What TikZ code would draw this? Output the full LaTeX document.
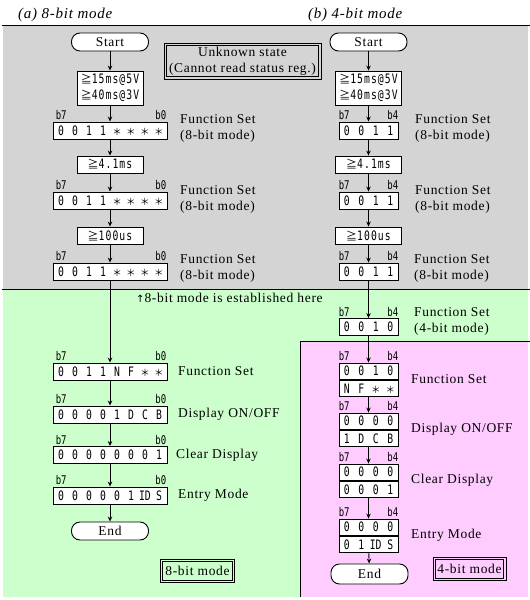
\documentclass[tikz,border=0pt]{standalone}
\usepackage{fontspec}
\setmainfont[LetterSpace=5]{Liberation Serif}
\newfontfamily\bitf[FakeStretch=0.75]{DejaVu Sans Mono}
\newfontfamily\delf[FakeStretch=0.75,LetterSpace=8]{DejaVu Sans Mono}
\newfontfamily\jpf{Noto Sans CJK JP}
\newfontfamily\symf{DejaVu Sans}
\usetikzlibrary{arrows.meta}
\definecolor{bggray}{RGB}{212,212,212}
\definecolor{bggreen}{RGB}{204,255,204}
\definecolor{bgpink}{RGB}{255,204,255}
\newcommand\ce[1]{\makebox[14pt]{#1}}
\newcommand\cf[1]{\makebox[14.5pt]{#1}}
\newcommand\stx{{\jpf\fontsize{9.5}{9.5}\selectfont ＊}}
\newcommand\gex{{\jpf\fontsize{11}{11}\selectfont ≧}}
\tikzset{
  base/.style={draw, line width=0.9pt, fill=white, inner sep=0pt},
  bitbox/.style={base, minimum height=17pt, font=\bitf\fontsize{13}{13}\selectfont},
  waitbox/.style={base, minimum width=66pt, minimum height=17pt, font=\delf\fontsize{13}{16}\selectfont, align=center},
  term/.style={base, rounded corners=8.5pt, minimum width=77pt, minimum height=18pt, font=\fontsize{13.5}{16}\selectfont},
  lbl/.style={anchor=west, align=left, inner sep=0pt, font=\fontsize{13.5}{16}\selectfont},
  blab/.style={inner sep=0pt, font=\bitf\fontsize{12}{12}\selectfont},
  modebox/.style={draw, line width=0.9pt, inner sep=0pt, font=\fontsize{13.5}{16}\selectfont, align=center},
  inner/.style={line width=0.9pt},
  title/.style={anchor=west, inner sep=0pt, font=\itshape\fontsize{15}{16}\selectfont},
  arr/.style={line width=0.9pt, -{Stealth[length=5pt,width=4.5pt]}},
}
\newcommand\ebox[3]{%
  \node[bitbox,minimum width=114pt] (#1) at (110,#2) {#3};
  \node[blab,anchor=south west] (#1-h) at ([xshift=3pt,yshift=1.5pt]#1.north west) {b7};
  \node[blab,anchor=south east] (#1-l) at ([xshift=-1pt,yshift=1.5pt]#1.north east) {b0};}
\newcommand\qbox[3]{%
  \node[bitbox,minimum width=59pt] (#1) at (368.5,#2) {#3};
  \node[blab,anchor=south west] (#1-h) at ([yshift=1.5pt]#1.north west) {b7};
  \node[blab,anchor=south east] (#1-l) at ([yshift=1.5pt]#1.north east) {b4};}
\newcommand\tbox[4]{%
  \node[bitbox,minimum width=59pt,minimum height=16.5pt] (#1) at (368.5,#2) {#3};
  \node[bitbox,minimum width=59pt,minimum height=16.5pt,anchor=north] (#1-2) at (#1.south) {#4};
  \node[blab,anchor=south west] (#1-h) at ([yshift=1.5pt]#1.north west) {b7};
  \node[blab,anchor=south east] (#1-l) at ([yshift=1.5pt]#1.north east) {b4};}
\newcommand\innerframe[1]{%
  \draw[inner] ([xshift=2.6pt,yshift=-2.6pt]#1.north west) rectangle ([xshift=-2.6pt,yshift=2.6pt]#1.south east);}
\begin{document}
\begin{tikzpicture}[x=1pt,y=-1pt]
\useasboundingbox (0,0) rectangle (530,600);
% backgrounds
\fill[bggray] (3,25) rectangle (528,289);
\fill[bggreen] (3,289) rectangle (528,597);
\fill[bgpink] (300,341) rectangle (528,597);
\draw[line width=1pt] (2,25) -- (530,25);
\draw[line width=1pt] (2,289) -- (530,289);
\draw[line width=1pt] (300,597) -- (300,341) -- (530,341);
% titles
\node[title] (ta) at (18,15) {(a) 8-bit mode};
\node[title] (tb) at (308,15) {(b) 4-bit mode};
\node[modebox, minimum width=157pt, minimum height=36pt] (unk) at (242.5,61) {Unknown state\\(Cannot read status reg.)};
\innerframe{unk}
% ---------- left: 8-bit ----------
\node[term] (lstart) at (110,42) {Start};
\node[waitbox, minimum height=34pt] (ldelay) at (110,88) {\gex15ms@5V\\\gex40ms@3V};
\ebox{lfs1}{130.5}{\ce0\ce0\ce1\ce1\ce\stx\ce\stx\ce\stx\ce\stx}
\node[waitbox] (lw2) at (110,164.5) {\gex4.1ms};
\ebox{lfs2}{200.5}{\ce0\ce0\ce1\ce1\ce\stx\ce\stx\ce\stx\ce\stx}
\node[waitbox] (lw3) at (110,235.5) {\gex100us};
\ebox{lfs3}{271.5}{\ce0\ce0\ce1\ce1\ce\stx\ce\stx\ce\stx\ce\stx}
\ebox{lfs4}{371.5}{\ce0\ce0\ce1\ce1\ce N\ce F\ce\stx\ce\stx}
\ebox{lfs5}{414.5}{\ce0\ce0\ce0\ce0\ce1\ce D\ce C\ce B}
\ebox{lfs6}{455}{\ce0\ce0\ce0\ce0\ce0\ce0\ce0\ce1}
\ebox{lfs7}{495.5}{\ce0\ce0\ce0\ce0\ce0\ce1\ce{ID}\ce S}
\node[term] (lend) at (110,531) {End};
\node[modebox, minimum width=74pt, minimum height=23pt] (lmode) at (197.5,571) {8-bit mode};
\innerframe{lmode}
\node[lbl] (lfs1-t) at (180,128) {Function Set\\(8-bit mode)};
\node[lbl] (lfs2-t) at (180,199) {Function Set\\(8-bit mode)};
\node[lbl] (lfs3-t) at (180,268.5) {Function Set\\(8-bit mode)};
\node[lbl] (lfs4-t) at (178,371.5) {Function Set};
\node[lbl] (lfs5-t) at (178,414.5) {Display ON/OFF};
\node[lbl] (lfs6-t) at (176,455) {Clear Display};
\node[lbl] (lfs7-t) at (178,495.5) {Entry Mode};
\node[lbl] (est) at (136,298) {{\symf\fontsize{10}{10}\selectfont ↑}8-bit mode is established here};
\draw[arr] (lstart) -- (ldelay);
\draw[arr] (ldelay) -- (lfs1);
\draw[arr] (lfs1) -- (lw2);
\draw[arr] (lw2) -- (lfs2);
\draw[arr] (lfs2) -- (lw3);
\draw[arr] (lw3) -- (lfs3);
\draw[arr] (lfs3) -- (lfs4);
\draw[arr] (lfs4) -- (lfs5);
\draw[arr] (lfs5) -- (lfs6);
\draw[arr] (lfs6) -- (lfs7);
\draw[arr] (lfs7) -- (lend);
% ---------- right: 4-bit ----------
\node[term] (rstart) at (368.5,42) {Start};
\node[waitbox, minimum height=34pt] (rdelay) at (368.5,88) {\gex15ms@5V\\\gex40ms@3V};
\qbox{rfs1}{130.5}{\cf0\cf0\cf1\cf1}
\node[waitbox] (rw2) at (368.5,164.5) {\gex4.1ms};
\qbox{rfs2}{200.5}{\cf0\cf0\cf1\cf1}
\node[waitbox] (rw3) at (368.5,235.5) {\gex100us};
\qbox{rfs3}{271.5}{\cf0\cf0\cf1\cf1}
\qbox{rfs4}{327}{\cf0\cf0\cf1\cf0}
\tbox{p1}{371.25}{\cf0\cf0\cf1\cf0}{\cf N\cf F\cf\stx\cf\stx}
\tbox{p2}{421.25}{\cf0\cf0\cf0\cf0}{\cf1\cf D\cf C\cf B}
\tbox{p3}{472.25}{\cf0\cf0\cf0\cf0}{\cf0\cf0\cf0\cf1}
\tbox{p4}{527.25}{\cf0\cf0\cf0\cf0}{\cf0\cf1\cf{ID}\cf S}
\node[term, minimum height=20pt] (rend) at (369.5,574) {End};
\node[modebox, minimum width=73pt, minimum height=23pt] (rmode) at (469.5,569) {4-bit mode};
\innerframe{rmode}
\node[lbl] (rfs1-t) at (415,128) {Function Set\\(8-bit mode)};
\node[lbl] (rfs2-t) at (415,199) {Function Set\\(8-bit mode)};
\node[lbl] (rfs3-t) at (414,268.5) {Function Set\\(8-bit mode)};
\node[lbl] (rfs4-t) at (414,321) {Function Set\\(4-bit mode)};
\node[lbl] (p1-t) at (411,379.5) {Function Set};
\node[lbl] (p2-t) at (411,429.5) {Display ON/OFF};
\node[lbl] (p3-t) at (411,480.5) {Clear Display};
\node[lbl] (p4-t) at (411,535.5) {Entry Mode};
\draw[arr] (rstart) -- (rdelay);
\draw[arr] (rdelay) -- (rfs1);
\draw[arr] (rfs1) -- (rw2);
\draw[arr] (rw2) -- (rfs2);
\draw[arr] (rfs2) -- (rw3);
\draw[arr] (rw3) -- (rfs3);
\draw[arr] (rfs3) -- (rfs4);
\draw[arr] (rfs4) -- (p1);
\draw[arr] (p1-2) -- (p2);
\draw[arr] (p2-2) -- (p3);
\draw[arr] (p3-2) -- (p4);
\draw[arr] (p4-2) -- (rend);
\end{tikzpicture}
\end{document}
